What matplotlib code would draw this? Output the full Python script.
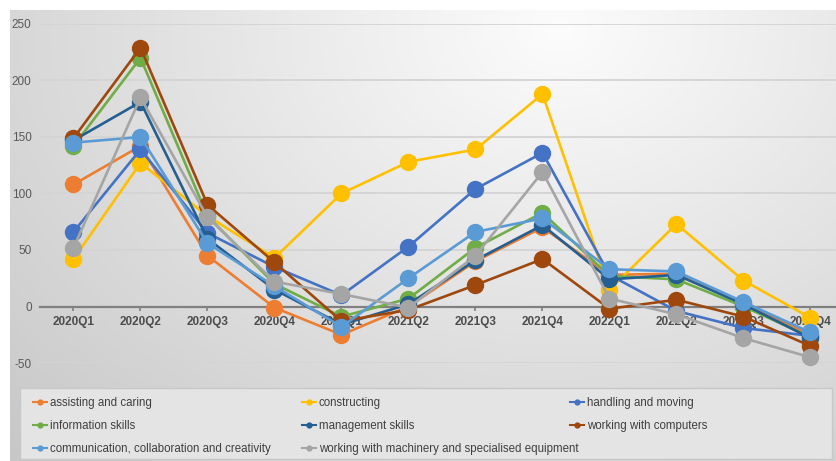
import numpy as np
import matplotlib
matplotlib.use("Agg")
import matplotlib.pyplot as plt
from matplotlib.lines import Line2D
from matplotlib.patches import Rectangle

plt.rcParams['font.family'] = ['Liberation Sans', 'DejaVu Sans']
plt.rcParams['axes.unicode_minus'] = False

quarters = ["2020Q1", "2020Q2", "2020Q3", "2020Q4",
            "2021Q1", "2021Q2", "2021Q3", "2021Q4",
            "2022Q1", "2022Q2", "2022Q3", "2022Q4"]

assisting_and_caring = [108, 142, 45, -1, -25, 0, 40, 70, 28, 29, 2, -25]
constructing = [42, 127, 80, 43, 100, 128, 139, 188, 15, 73, 23, -10]
handling_and_moving = [66, 139, 65, 35, 10, 53, 104, 136, 28, -4, -19, -26]
information_skills = [142, 220, 80, 20, -9, 7, 52, 83, 27, 24, 0, -27]
management_skills = [147, 181, 60, 15, -16, 2, 41, 72, 24, 28, 2, -28]
working_with_computers = [149, 229, 90, 39, -13, -3, 19, 42, -2, 6, -9, -35]
communication_collab_creativity = [145, 150, 56, 18, -18, 25, 66, 78, 33, 31, 4, -23]
machinery_and_equipment = [52, 185, 79, 22, 11, -1, 45, 119, 7, -7, -28, -45]

series = [
    ("assisting and caring", assisting_and_caring, "#ED7D31"),
    ("constructing", constructing, "#FFC000"),
    ("handling and moving", handling_and_moving, "#4472C4"),
    ("information skills", information_skills, "#70AD47"),
    ("management skills", management_skills, "#255E91"),
    ("working with computers", working_with_computers, "#9E480E"),
    ("communication, collaboration and creativity", communication_collab_creativity, "#5B9BD5"),
    ("working with machinery and specialised equipment", machinery_and_equipment, "#A5A5A5"),
]

W, H = 837, 461
fig = plt.figure(figsize=(W / 100, H / 100), dpi=100)
fig.patch.set_facecolor("white")

# soft radial gradient behind the chart
bg = fig.add_axes([10 / W, 0, 827 / W, 451 / H], zorder=-5)
gx = np.linspace(10, 837, 400)
gy = np.linspace(10, 461, 240)
X, Y = np.meshgrid(gx, gy)
r = np.sqrt(((X - 560) / 600) ** 2 + ((Y - 30) / 450) ** 2)
val = np.clip(252 - 40 * r, 196, 252) / 255.0
bg.imshow(np.dstack([val, val, val]), aspect="auto", extent=[0, 1, 0, 1])
bg.set_axis_off()

ax = fig.add_axes([40 / W, (H - 363) / H, 804 / W, (363 - 24) / H])
ax.set_facecolor("none")
x = np.arange(len(quarters))

for name, vals, col in series:
    ax.plot(x, vals, color=col, lw=1.9, marker="o", markersize=11.5,
            markeredgecolor=col, clip_on=False, solid_joinstyle="round")

ax.set_xlim(-0.5, 11.5)
ax.set_ylim(-50, 250)
yticks = list(range(-50, 251, 50))
ax.set_yticks(yticks)
ax.set_yticklabels([str(v) for v in yticks])
ax.yaxis.grid(True, color="#D4D4D4", lw=1.3)
ax.set_axisbelow(True)
for s in ("left", "right", "top"):
    ax.spines[s].set_visible(False)
ax.spines["bottom"].set_position(("data", 0))
ax.spines["bottom"].set_color("#808080")
ax.spines["bottom"].set_linewidth(1.6)
ax.spines["bottom"].set_zorder(1.5)
ax.tick_params(axis="y", length=0, pad=6, labelsize=8.5, labelcolor="#595959")
ax.set_xticks(x)
ax.set_xticklabels(quarters, fontweight="bold")
ax.tick_params(axis="x", direction="out", length=3, width=1.2, color="#808080",
               pad=4, labelsize=8.5, labelcolor="#4D4D4D")

# legend box spanning the bottom of the chart
fig.patches.append(Rectangle((20 / W, 2 / H), 812 / W, 71 / H,
                             transform=fig.transFigure, facecolor="#E4E4E4",
                             edgecolor="#C8C8C8", lw=1.0, zorder=-1))

handles = [Line2D([0], [0], color=col, lw=1.5, marker="o", markersize=3.5)
           for _, _, col in series]
labels = [name for name, _, _ in series]
columns = [[0, 3, 6], [1, 4, 7], [2, 5]]
col_x = [33, 302, 570]
for idxs, cx in zip(columns, col_x):
    leg = fig.legend([handles[i] for i in idxs], [labels[i] for i in idxs],
                     loc="upper left", bbox_to_anchor=(cx / W, (H - 397) / H),
                     frameon=False, fontsize=8.3, handlelength=1.2,
                     handletextpad=0.25, labelspacing=0.97,
                     borderpad=0, borderaxespad=0)
    for t in leg.get_texts():
        t.set_color("#404040")

fig.savefig("out.png", dpi=100)
